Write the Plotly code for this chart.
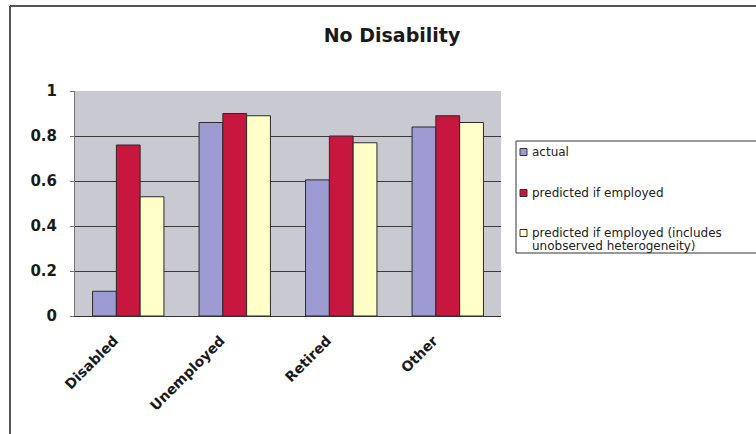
import plotly.graph_objects as go

categories = ["Disabled", "Unemployed", "Retired", "Other"]
actual = [0.11, 0.86, 0.605, 0.84]
predicted = [0.76, 0.90, 0.80, 0.89]
predicted_uh = [0.53, 0.89, 0.77, 0.86]

series_names = [
    "actual",
    "predicted if employed",
    "predicted if employed (includes unobserved heterogeneity)",
]
legend_lines = [
    ["actual"],
    ["predicted if employed"],
    ["predicted if employed (includes", "unobserved heterogeneity)"],
]
series_colors = ["#9C9CD2", "#C8173F", "#FFFFC8"]
y_ticks = [0, 0.2, 0.4, 0.6, 0.8, 1]
y_tick_text = ["0", "0.2", "0.4", "0.6", "0.8", "1"]

W, H = 756, 434
PL, PR, PT, PB = 75, 501, 91, 316  # plot area in pixels
FONT = "DejaVu Sans, Arial, sans-serif"


def px(x):
    return (x - PL) / (PR - PL)


def py(y):
    return (PB - y) / (PB - PT)


fig = go.Figure()
for name, vals, col in zip(series_names, [actual, predicted, predicted_uh], series_colors):
    fig.add_trace(go.Bar(
        x=categories, y=vals, name=name, showlegend=False,
        marker=dict(color=col, line=dict(color="#2a2a2a", width=1)),
    ))

fig.update_layout(
    width=W, height=H,
    margin=dict(l=PL, r=W - PR, t=PT, b=H - PB),
    paper_bgcolor="white",
    plot_bgcolor="#C9C9D1",
    barmode="group", bargap=0.33, bargroupgap=0,
    font=dict(family=FONT, color="#111"),
    title=dict(text="<b>No Disability</b>", x=392 / W, xanchor="center",
               y=1 - 35 / H, yanchor="middle", font=dict(size=19, color="#1a1a1a")),
    xaxis=dict(
        tickangle=-45, tickfont=dict(size=14, color="#1a1a1a"),
        tickvals=categories, ticktext=[f"<b>{c}</b>" for c in categories],
        showline=True, linecolor="#333", linewidth=1,
        ticks="", ticklabelshift=-14, ticklabelstandoff=10, showgrid=False,
    ),
    yaxis=dict(
        range=[0, 1], tickvals=y_ticks, ticktext=[f"<b>{t}</b>" for t in y_tick_text],
        tickfont=dict(size=15, color="#1a1a1a"),
        showgrid=True, gridcolor="#3a3a3a", gridwidth=1,
        showline=True, linecolor="#777", linewidth=1,
        ticks="outside", ticklen=4, tickcolor="#777", ticklabelstandoff=10,
        zeroline=False,
    ),
)

# outer chart frame (top and left edges)
fig.add_shape(type="line", xref="paper", yref="paper",
              x0=px(10), x1=px(W + 5), y0=py(6), y1=py(6),
              line=dict(color="#555", width=2))
fig.add_shape(type="line", xref="paper", yref="paper",
              x0=px(10), x1=px(10), y0=py(6), y1=py(H + 5),
              line=dict(color="#555", width=2))

# legend box, running past the right edge of the chart
fig.add_shape(type="rect", xref="paper", yref="paper",
              x0=px(516), x1=px(W + 20), y0=py(141), y1=py(253),
              fillcolor="white", line=dict(color="#333", width=1))
legend_rows = [152, 193, 233]
for lines, col, yr in zip(legend_lines, series_colors, legend_rows):
    fig.add_shape(type="rect", xref="paper", yref="paper",
                  x0=px(520), x1=px(527), y0=py(yr - 3.5), y1=py(yr + 3.5),
                  fillcolor=col, line=dict(color="#333", width=1))
    for k, line in enumerate(lines):
        fig.add_annotation(xref="paper", yref="paper", x=px(530), y=py(yr + 13 * k),
                           xanchor="left", yanchor="middle", align="left",
                           text=line, showarrow=False,
                           font=dict(size=12, color="#222"))

fig.write_html("out.html")
